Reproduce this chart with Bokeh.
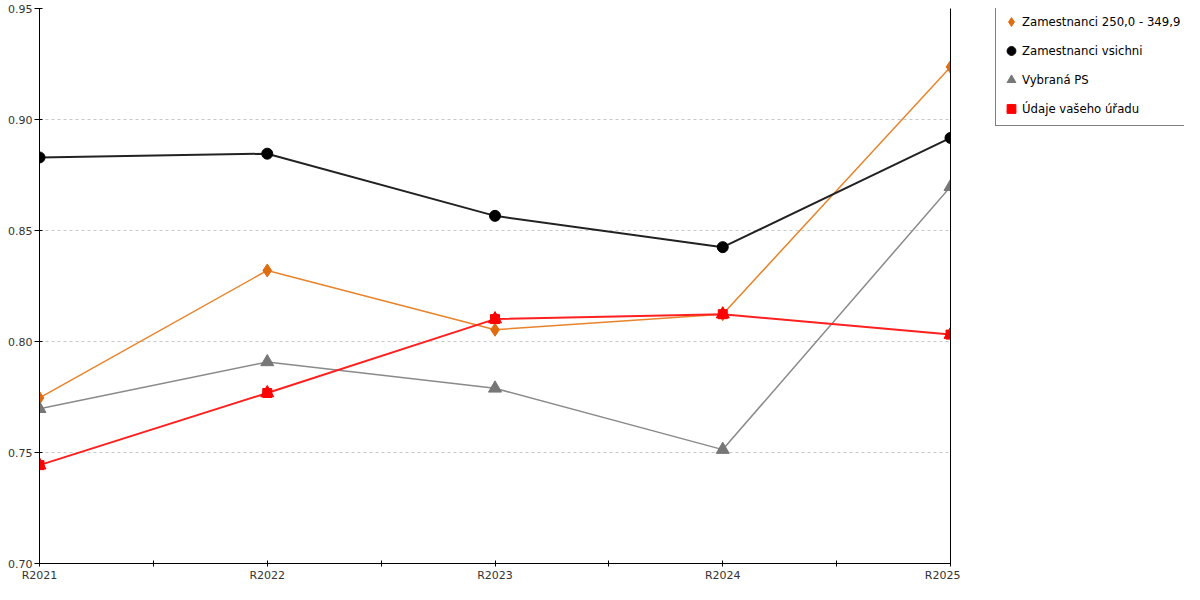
from bokeh.plotting import figure
from bokeh.layouts import row
from bokeh.models import (FixedTicker, LinearAxis, Legend, LegendItem, Range1d,
                          NumeralTickFormatter)
from bokeh.embed import file_html
from bokeh.resources import INLINE

categories = ["R2021", "R2022", "R2023", "R2024", "R2025"]
s_orange = [0.7746, 0.8320, 0.8053, 0.8123, 0.9237]
s_black = [0.8829, 0.8846, 0.8566, 0.8425, 0.8917]
s_gray = [0.7697, 0.7908, 0.7789, 0.7513, 0.8697]
s_red = [0.7443, 0.7768, 0.8101, 0.8123, 0.8031]
names = ["Zamestnanci 250,0 - 349,9", "Zamestnanci vsichni", "Vybraná PS", "Údaje vašeho úřadu"]
y_ticks = [0.70, 0.75, 0.80, 0.85, 0.90, 0.95]

FONT = "DejaVu Sans"
x = list(range(len(categories)))

C_OR_L, C_OR_M = "#e8832a", "#e06c10"
C_BK_L, C_BK_M = "#222222", "black"
C_GR_L, C_GR_M = "#8a8a8a", "#777777"
C_RD_L, C_RD_M = "#ff2020", "red"

p = figure(width=960, height=584, output_backend="svg", toolbar_location=None,
           x_range=Range1d(0, len(categories) - 1), y_range=Range1d(0.70, 0.95),
           min_border_left=39, min_border_top=8, min_border_bottom=18, min_border_right=10)
p.outline_line_color = None
p.background_fill_color = "white"
p.xgrid.grid_line_color = None
p.ygrid.grid_line_color = "#c8c8c8"
p.ygrid.grid_line_dash = "3 3"
p.ygrid.ticker = FixedTicker(ticks=y_ticks)

p.xaxis.ticker = FixedTicker(ticks=x, minor_ticks=[i + 0.5 for i in x[:-1]])
p.xaxis.major_label_overrides = {i: c for i, c in zip(x, categories)}
p.yaxis.ticker = FixedTicker(ticks=y_ticks)
p.yaxis.formatter = NumeralTickFormatter(format="0.00")

for ax in [p.xaxis[0], p.yaxis[0]]:
    ax.axis_line_color = "black"
    ax.major_tick_line_color = "black"
    ax.minor_tick_line_color = "black"
    ax.major_label_text_font = FONT
    ax.major_label_text_font_size = "11px"
    ax.major_label_text_color = "#333333"
p.xaxis.major_tick_in = 3
p.xaxis.major_tick_out = 3
p.xaxis.minor_tick_in = 3
p.xaxis.minor_tick_out = 3
p.xaxis.major_label_standoff = 2
p.yaxis.major_tick_in = 3
p.yaxis.major_tick_out = 5
p.yaxis.minor_tick_line_color = None
p.yaxis.major_label_standoff = 2

right = LinearAxis(ticker=FixedTicker(ticks=[]), major_tick_line_color=None,
                   minor_tick_line_color=None, major_tick_out=0, minor_tick_out=0,
                   major_label_text_font_size="0px", axis_line_color="black")
p.add_layout(right, "right")

p.line(x, s_orange, line_color=C_OR_L, line_width=1.5)
p.line(x, s_black, line_color=C_BK_L, line_width=2)
p.line(x, s_gray, line_color=C_GR_L, line_width=1.5)
p.line(x, s_red, line_color=C_RD_L, line_width=2)

p.scatter(x, s_orange, marker="diamond", size=13, fill_color=C_OR_M, line_color=C_OR_M)
p.scatter(x, s_black, marker="circle", size=11, fill_color=C_BK_M, line_color=C_BK_M)
p.scatter(x, s_gray, marker="triangle", size=13, fill_color=C_GR_M, line_color=C_GR_M)
p.scatter(x, s_red, marker="square", size=9, fill_color=C_RD_M, line_color=C_RD_M)
p.scatter(x, s_red, marker="triangle", size=13, fill_color=C_RD_M, line_color=C_RD_M)

# legend lives in its own small figure to the right; its glyph renderers
# use the same series but the view range keeps them out of sight
pl = figure(width=224, height=584, output_backend="svg", toolbar_location=None,
            x_axis_type=None, y_axis_type=None,
            x_range=Range1d(100, 101), y_range=Range1d(100, 101), min_border=0)
pl.outline_line_color = None
pl.grid.visible = False
l_or = pl.scatter(x, s_orange, marker="diamond", fill_color=C_OR_M, line_color=C_OR_M)
l_bk = pl.scatter(x, s_black, marker="circle", fill_color=C_BK_M, line_color=C_BK_M)
l_gr = pl.scatter(x, s_gray, marker="triangle", fill_color=C_GR_M, line_color=C_GR_M)
l_rd1 = pl.scatter(x, s_red, marker="square", fill_color=C_RD_M, line_color=C_RD_M)
l_rd2 = pl.scatter(x, s_red, marker="triangle", fill_color=C_RD_M, line_color=C_RD_M)

legend = Legend(items=[LegendItem(label=names[0], renderers=[l_or], index=0),
                       LegendItem(label=names[1], renderers=[l_bk], index=0),
                       LegendItem(label=names[2], renderers=[l_gr], index=0),
                       LegendItem(label=names[3], renderers=[l_rd1, l_rd2], index=0)],
                location=(35, 437), margin=0, padding=4, spacing=4,
                label_text_font=FONT, label_text_font_size="11.7px",
                label_text_color="black", glyph_width=22, glyph_height=25,
                label_standoff=0, label_height=25,
                border_line_color="black", border_line_width=1,
                background_fill_color="white", background_fill_alpha=1)
pl.add_layout(legend)

open("out.html", "w").write(file_html(row(p, pl), INLINE))
